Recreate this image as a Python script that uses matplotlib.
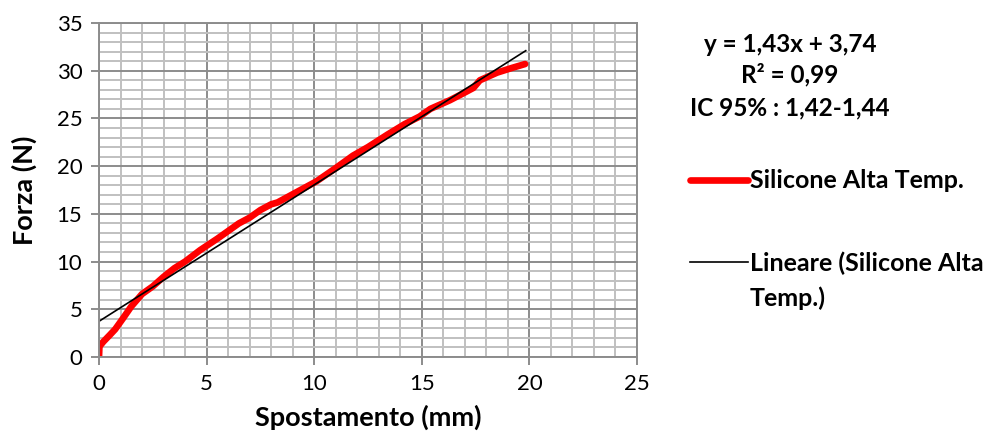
import matplotlib
matplotlib.use("Agg")
import matplotlib.pyplot as plt
import numpy as np
from matplotlib.ticker import MultipleLocator

plt.rcParams['font.family'] = ['Lato', 'DejaVu Sans']

spost = [0, 0.02, 0.2, 0.5, 0.75, 1.1, 1.5, 2.0, 2.5, 3.0, 3.5, 4.0, 4.7, 5.5, 6.0,
         6.5, 7.0, 7.5, 8.0, 8.3, 9.2, 10.1, 11.0, 11.8, 12.5, 13.4, 14.2, 14.9,
         15.4, 16.3, 16.9, 17.4, 17.7, 18.0, 18.5, 19.2, 19.8]
forza = [0, 1.1, 1.6, 2.3, 2.9, 4.0, 5.3, 6.6, 7.4, 8.4, 9.3, 10.0, 11.2, 12.4, 13.2,
         14.0, 14.6, 15.4, 16.0, 16.2, 17.3, 18.4, 19.8, 21.1, 22.0, 23.3, 24.4, 25.2,
         26.0, 26.9, 27.6, 28.2, 29.0, 29.3, 29.8, 30.3, 30.7]
slope, intercept = 1.43, 3.74
fit_x = [0, 19.83]

series_label = "Silicone Alta Temp."
trend_label = "Lineare (Silicone Alta"
trend_label_cont = "Temp.)"
eq_lines = ["y = 1,43x + 3,74", "R² = 0,99", "IC 95% : 1,42-1,44"]

fig = plt.figure(figsize=(9.86, 4.47), dpi=100)
ax = fig.add_axes([99/986, 1-357/447, (637-99)/986, (357-23)/447])

ax.set_xlim(0, 25)
ax.set_ylim(0, 35)
ax.xaxis.set_major_locator(MultipleLocator(5))
ax.yaxis.set_major_locator(MultipleLocator(5))
ax.xaxis.set_minor_locator(MultipleLocator(1))
ax.yaxis.set_minor_locator(MultipleLocator(1))
ax.grid(which='minor', color='#c0c0c0', linewidth=1.4)
ax.grid(which='major', color='#8c8c8c', linewidth=1.4)
ax.set_axisbelow(True)
for s in ax.spines.values():
    s.set_color('#8c8c8c')
    s.set_linewidth(1.4)
ax.tick_params(which='major', length=6, width=1.4, color='#8c8c8c', labelsize=16, pad=6)
ax.tick_params(which='minor', length=0)

l1, = ax.plot(spost, forza, color='#ff0000', linewidth=4.8, solid_capstyle='round',
              solid_joinstyle='round', label=series_label)
fx = np.array(fit_x)
l2, = ax.plot(fx, slope*fx + intercept, color='black', linewidth=1.2, label=trend_label)

ax.set_xlabel("Spostamento (mm)", fontsize=19.5, fontweight='bold', labelpad=8)
ax.set_ylabel("Forza (N)", fontsize=19.5, fontweight='bold', labelpad=14)

ys = [45, 75, 108]
for t, yy in zip(eq_lines, ys):
    fig.text(790/986, 1-yy/447, t, ha='center', va='center', fontsize=17.5, fontweight='bold')

leg = fig.legend(handles=[l1, l2], loc='center left', bbox_to_anchor=(690/986, 1-222/447),
                 frameon=False, fontsize=18, handlelength=2.3, handletextpad=0.12,
                 labelspacing=2.35, borderaxespad=0, borderpad=0)
for t in leg.get_texts():
    t.set_fontweight('bold')
fig.text(750/986, 1-298/447, trend_label_cont, ha='left', va='center', fontsize=18,
         fontweight='bold')

fig.savefig("out.png", dpi=100)
